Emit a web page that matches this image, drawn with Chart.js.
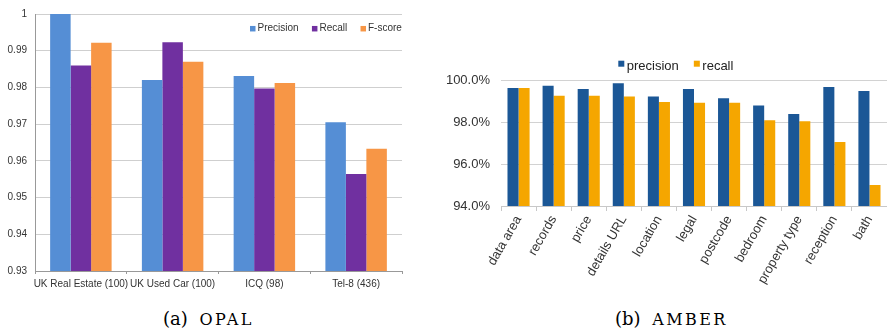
<!DOCTYPE html>
<html>
<head>
<meta charset="utf-8">
<script src="https://cdn.jsdelivr.net/npm/chart.js@4.4.1/dist/chart.umd.min.js"></script>
<style>
    body { margin: 0; background: #fff; width: 887px; height: 335px; position: relative; overflow: hidden; }
    #opalChart { position: absolute; left: 0; top: 0; }
    #amberChart { position: absolute; left: 440px; top: 40px; }
    .caption { position: absolute; top: 310px; font-family: "DejaVu Serif", serif; font-size: 18px; line-height: 1; color: #000; white-space: nowrap; }
    .caption span { font-size: 16px; letter-spacing: 2.4px; margin-left: 6px; }
</style>
</head>
<body>
<canvas id="opalChart" width="412" height="300"></canvas>
<canvas id="amberChart" width="447" height="260"></canvas>
<div class="caption" style="left:163px">(a) <span>OPAL</span></div>
<div class="caption" style="left:615px">(b) <span>AMBER</span></div>

<script>
// OPAL: results per dataset
const opalDomains = ['UK Real Estate (100)', 'UK Used Car (100)', 'ICQ (98)', 'Tel-8 (436)'];
const opalPrecision = [1.0, 0.982, 0.9831, 0.9705];
const opalRecall = [0.986, 0.9923, 0.9797, 0.9564];
const opalFscore = [0.9922, 0.987, 0.9812, 0.9633];
const opalTicks = [0.93, 0.94, 0.95, 0.96, 0.97, 0.98, 0.99, 1];

// AMBER: results per attribute (%)
const amberFields = ['data area', 'records', 'price', 'details URL', 'location', 'legal',
    'postcode', 'bedroom', 'property type', 'reception', 'bath'];
const amberPrecision = [99.62, 99.73, 99.57, 99.84, 99.21, 99.57, 99.13, 98.79, 98.38, 99.67, 99.48];
const amberRecall = [99.62, 99.25, 99.25, 99.21, 98.95, 98.92, 98.92, 98.08, 98.03, 97.05, 95.0];
const amberTicks = [94, 96, 98, 100];

const sans = 'Liberation Sans, Arial, Helvetica, sans-serif';
Chart.defaults.font.family = sans;
Chart.defaults.color = '#333';

// small square legend placed at a fixed spot in the canvas
const boxLegend = {
    id: 'boxLegend',
    afterDraw(chart, args, opts) {
        const ctx = chart.ctx;
        ctx.save();
        ctx.font = opts.size + 'px ' + sans;
        ctx.textBaseline = 'middle';
        ctx.textAlign = 'left';
        let x = opts.x;
        chart.data.datasets.forEach(ds => {
            ctx.fillStyle = ds.backgroundColor;
            ctx.fillRect(x, opts.boxY - opts.box / 2, opts.box, opts.box);
            x += opts.box + opts.boxGap;
            ctx.fillStyle = opts.color;
            ctx.fillText(ds.label, x, opts.y);
            x += ctx.measureText(ds.label).width + opts.gap;
        });
        ctx.restore();
    }
};

new Chart(document.getElementById('opalChart'), {
    type: 'bar',
    data: {
        labels: opalDomains,
        datasets: [
            { label: 'Precision', data: opalPrecision, backgroundColor: '#558ed5' },
            { label: 'Recall', data: opalRecall, backgroundColor: '#7030a0' },
            { label: 'F-score', data: opalFscore, backgroundColor: '#f79646' }
        ]
    },
    plugins: [boxLegend],
    options: {
        responsive: false,
        animation: false,
        categoryPercentage: 0.67,
        barPercentage: 1,
        layout: { padding: { top: 9, right: 10, left: 0, bottom: 0 } },
        plugins: {
            tooltip: { enabled: false },
            legend: { display: false },
            boxLegend: { x: 250, y: 28.5, boxY: 28.7, box: 5.5, boxGap: 2, gap: 13.3, size: 10, color: '#333' }
        },
        scales: {
            x: {
                grid: { display: true, drawOnChartArea: false, offset: true, tickLength: 3, tickColor: '#999' },
                border: { color: '#999' },
                ticks: { font: { size: 10 }, maxRotation: 0, minRotation: 0, autoSkip: false, padding: 4 },
                afterFit: function(scale) { scale.height = 29; }
            },
            y: {
                min: 0.93,
                max: 1,
                afterBuildTicks: function(scale) {
                    scale.ticks = opalTicks.map(v => ({ value: v }));
                },
                grid: { color: '#cfcfcf', drawTicks: false },
                border: { color: '#999' },
                ticks: {
                    font: { size: 10 },
                    padding: 8,
                    callback: function(value) { return String(+value.toFixed(2)); }
                },
                afterFit: function(scale) { scale.width = 35; }
            }
        }
    }
});

new Chart(document.getElementById('amberChart'), {
    type: 'bar',
    data: {
        labels: amberFields,
        datasets: [
            { label: 'precision', data: amberPrecision, backgroundColor: '#1b5796' },
            { label: 'recall', data: amberRecall, backgroundColor: '#f5a600' }
        ]
    },
    plugins: [boxLegend],
    options: {
        responsive: false,
        animation: false,
        categoryPercentage: 0.63,
        barPercentage: 1,
        layout: { padding: { top: 40, right: 0, left: 0, bottom: 0 } },
        plugins: {
            tooltip: { enabled: false },
            legend: { display: false },
            boxLegend: { x: 178.3, y: 26, boxY: 23.7, box: 6, boxGap: 2.5, gap: 15, size: 13, color: '#222' }
        },
        scales: {
            x: {
                grid: { display: true, drawOnChartArea: false, offset: true, tickLength: 5, tickColor: '#c8c8c8' },
                border: { color: '#c8c8c8' },
                ticks: { font: { size: 13 }, maxRotation: 60, minRotation: 60, autoSkip: false, padding: 2 },
                afterFit: function(scale) { scale.height = 94; }
            },
            y: {
                min: 94,
                max: 100,
                afterBuildTicks: function(scale) {
                    scale.ticks = amberTicks.map(v => ({ value: v }));
                },
                grid: { color: '#d2d2d2', drawTicks: false },
                border: { display: false },
                ticks: {
                    font: { size: 13 },
                    padding: 11,
                    callback: function(value) { return value.toFixed(1) + '%'; }
                },
                afterFit: function(scale) { scale.width = 61; }
            }
        }
    }
});
</script>
</body>
</html>
